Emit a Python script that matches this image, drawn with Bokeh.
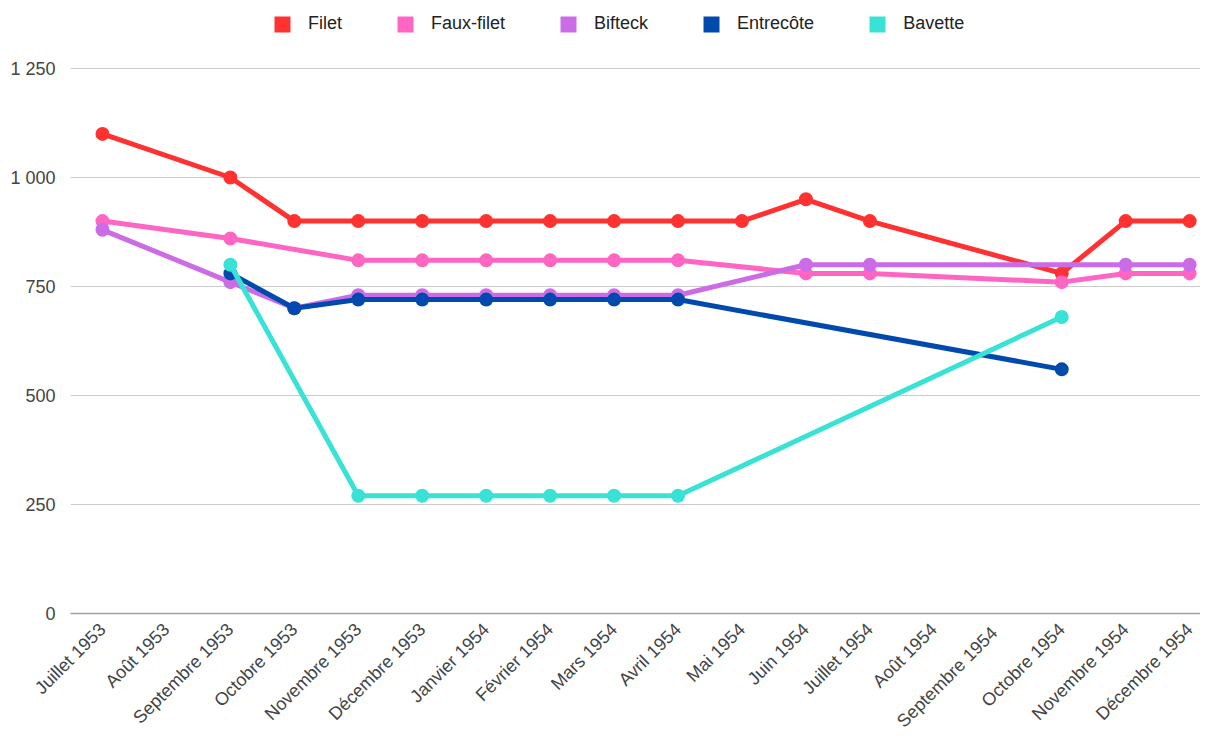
from bokeh.plotting import figure
from bokeh.models import Legend, LegendItem, FixedTicker, Range1d, ColumnDataSource
from bokeh.embed import file_html
from bokeh.resources import INLINE
import math

months = ["Juillet 1953", "Août 1953", "Septembre 1953", "Octobre 1953", "Novembre 1953",
          "Décembre 1953", "Janvier 1954", "Février 1954", "Mars 1954", "Avril 1954",
          "Mai 1954", "Juin 1954", "Juillet 1954", "Août 1954", "Septembre  1954",
          "Octobre 1954", "Novembre 1954", "Décembre 1954"]

filet = [1100, None, 1000, 900, 900, 900, 900, 900, 900, 900, 900, 950, 900, None, None, 780, 900, 900]
faux_filet = [900, None, 860, None, 810, 810, 810, 810, 810, 810, None, 780, 780, None, None, 760, 780, 780]
bifteck = [880, None, 760, 700, 730, 730, 730, 730, 730, 730, None, 800, 800, None, None, None, 800, 800]
entrecote = [None, None, 780, 700, 720, 720, 720, 720, 720, 720, None, None, None, None, None, 560, None, None]
bavette = [None, None, 800, None, 270, 270, 270, 270, 270, 270, None, None, None, None, None, 680, None, None]

series_names = ["Filet", "Faux-filet", "Bifteck", "Entrecôte", "Bavette"]
series_values = [filet, faux_filet, bifteck, entrecote, bavette]
colors = ["#ff3131", "#ff66c4", "#cb6ce6", "#004aad", "#38e2d4"]

y_ticks = [0, 250, 500, 750, 1000, 1250]

FONT = "Liberation Sans"
PLOT_H = 545          # pixel height of the 0..1250 band
TOP_SPACE = 68        # room above the 1250 gridline for the legend
FRAME_H = PLOT_H + TOP_SPACE
y_top = y_ticks[-1] * FRAME_H / PLOT_H
NAN = float("nan")

p = figure(frame_width=1130, frame_height=FRAME_H, output_backend="svg", toolbar_location=None,
           x_range=Range1d(-0.5, 17.17), y_range=Range1d(0, y_top),
           min_border_left=70, min_border_right=0, min_border_top=0, min_border_bottom=0)
p.outline_line_color = None
p.background_fill_color = "white"
p.border_fill_color = "white"

legend_items = []
for name, vals, col in zip(series_names, series_values, colors):
    xs = [i for i, v in enumerate(vals) if v is not None]
    ys = [v for v in vals if v is not None]
    src = ColumnDataSource(dict(x=xs, y=ys))
    p.line("x", "y", source=src, line_width=5, line_color=col, line_join="round", line_cap="round")
    p.scatter("x", "y", source=src, size=14, fill_color=col, line_color=None)
    # legend swatch only (NaN geometry: never drawn in the plot area)
    swatch = p.quad(left=[NAN], right=[NAN], top=[NAN], bottom=[NAN], fill_color=col, line_color=None)
    legend_items.append(LegendItem(label=name, renderers=[swatch]))

# axes
p.xaxis.ticker = FixedTicker(ticks=list(range(len(months))))
p.xaxis.major_label_overrides = {i: m for i, m in enumerate(months)}
p.xaxis.major_label_orientation = math.pi / 4
p.xaxis.major_tick_line_color = None
p.xaxis.major_tick_out = 0
p.xaxis.major_tick_in = 0
p.xaxis.minor_tick_line_color = None
p.xaxis.axis_line_color = "#a0a0a0"
p.xaxis.axis_line_width = 1.5
p.xaxis.major_label_text_font = FONT
p.xaxis.major_label_text_font_size = "18px"
p.xaxis.major_label_text_color = "#444444"
p.xaxis.major_label_standoff = 13

p.yaxis.ticker = FixedTicker(ticks=y_ticks)
p.yaxis.major_label_overrides = {t: f"{t:,}".replace(",", " ") for t in y_ticks}
p.yaxis.axis_line_color = None
p.yaxis.major_tick_line_color = None
p.yaxis.major_tick_out = 0
p.yaxis.major_tick_in = 0
p.yaxis.minor_tick_line_color = None
p.yaxis.major_label_text_font = FONT
p.yaxis.major_label_text_font_size = "18px"
p.yaxis.major_label_text_color = "#444444"
p.yaxis.major_label_standoff = 15

p.xgrid.grid_line_color = None
p.ygrid.grid_line_color = "#cccccc"
p.ygrid.grid_line_width = 1

legend = Legend(items=legend_items, orientation="horizontal", location=(202, FRAME_H - 34),
                glyph_width=20, glyph_height=20, label_standoff=16, spacing=53,
                label_height=20, padding=5, margin=0, border_line_color=None,
                background_fill_alpha=0,
                label_text_font=FONT, label_text_font_size="18px", label_text_color="#222222")
p.add_layout(legend, "center")

open("out.html", "w").write(file_html(p, INLINE))
